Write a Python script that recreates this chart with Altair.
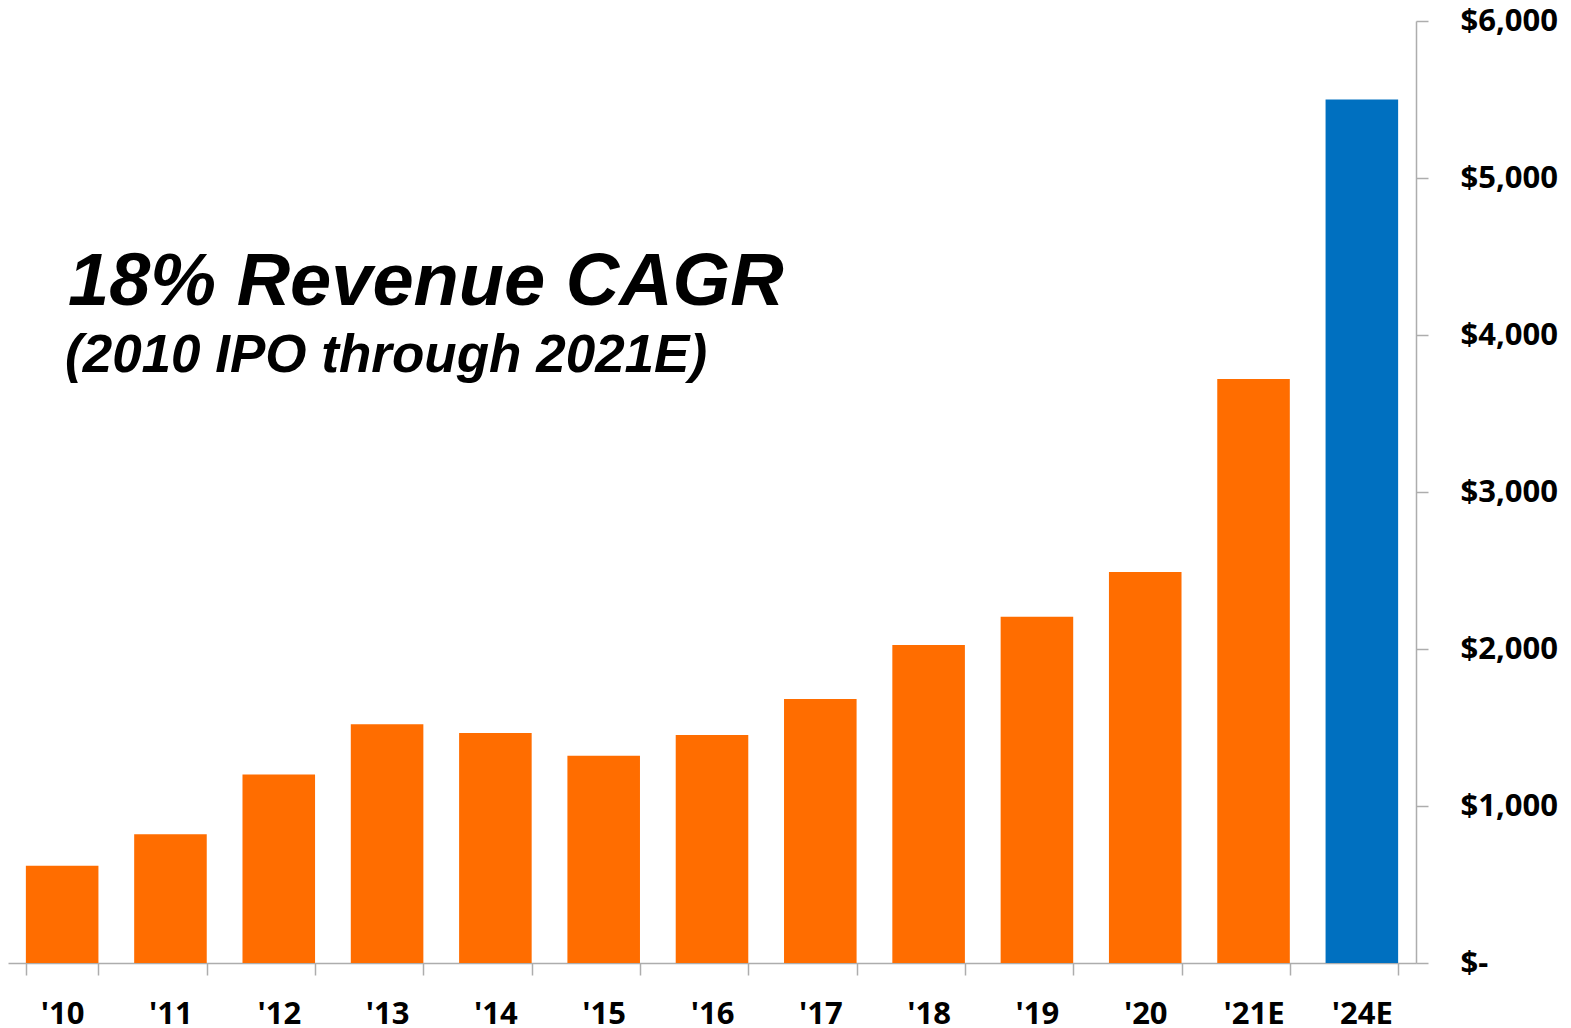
import altair as alt
import pandas as pd

years = ["'10", "'11", "'12", "'13", "'14", "'15", "'16", "'17", "'18", "'19", "'20", "'21E", "'24E"]
revenue = [620, 820, 1200, 1520, 1465, 1320, 1452, 1682, 2025, 2205, 2490, 3720, 5500]
kinds = ["actual"] * 12 + ["target"]
title_lines = ["18% Revenue CAGR", "(2010 IPO through 2021E)"]

df = pd.DataFrame({"year": years, "revenue": revenue, "kind": kinds})

AX = "#ADADAD"
FONT = "Open Sans"

bars = alt.Chart(df).mark_bar().encode(
    x=alt.X("year:N", sort=years, title=None,
            scale=alt.Scale(paddingInner=0.33, paddingOuter=0.165),
            axis=alt.Axis(labelAngle=0, tickBand="extent", tickSize=12, labelPadding=24,
                          labelFont=FONT, labelFontSize=31, labelFontWeight="bold", labelColor="#000",
                          domainColor=AX, tickColor=AX, domainWidth=1.5, tickWidth=1.5)),
    y=alt.Y("revenue:Q", title=None,
            scale=alt.Scale(domain=[0, 6000]),
            axis=alt.Axis(orient="right", values=[0, 1000, 2000, 3000, 4000, 5000, 6000],
                          grid=False, tickSize=12, labelPadding=32,
                          labelExpr="datum.value == 0 ? '$-' : '$' + format(datum.value, ',')",
                          labelFont=FONT, labelFontSize=31, labelFontWeight="bold", labelColor="#000",
                          domainColor=AX, tickColor=AX, domainWidth=1.5, tickWidth=1.5)),
    color=alt.Color("kind:N", legend=None,
                    scale=alt.Scale(domain=["actual", "target"], range=["#FF6D00", "#0070C0"])),
)

t1 = alt.Chart(pd.DataFrame({"t": [title_lines[0]]})).mark_text(
    font="Liberation Sans", fontSize=74, fontWeight="bold", fontStyle="italic",
    align="left", baseline="alphabetic", color="#000"
).encode(text="t:N", x=alt.value(60), y=alt.value(284))

t2 = alt.Chart(pd.DataFrame({"t": [title_lines[1]]})).mark_text(
    font="Liberation Sans", fontSize=53, fontWeight="bold", fontStyle="italic",
    align="left", baseline="alphabetic", color="#000"
).encode(text="t:N", x=alt.value(57), y=alt.value(351))

chart = alt.layer(bars, t1, t2).properties(
    width=1408, height=942,
    padding={"left": 0, "top": 13, "right": 147, "bottom": 62},
    autosize=alt.AutoSizeParams(type="none"),
).configure_view(stroke=None)

chart.save("out.html", embed_options={"renderer": "svg", "actions": False})
